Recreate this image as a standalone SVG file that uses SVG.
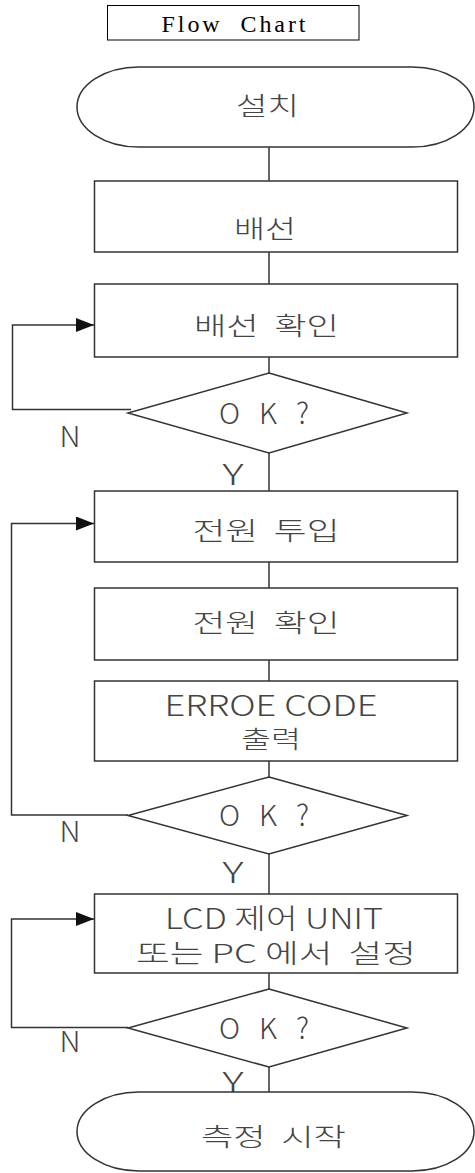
<svg xmlns="http://www.w3.org/2000/svg" width="475" height="1173" viewBox="0 0 475 1173">
<style>
text{white-space:pre}
.shape{fill:#fff;stroke:#333;stroke-width:1.5}
.conn{fill:none;stroke:#333;stroke-width:1.5}
.ko{font-family:"Noto Sans CJK KR",sans-serif;font-size:25px;font-weight:300;fill:#444;text-anchor:middle;dominant-baseline:central}
.la{font-family:"Noto Sans CJK KR","Liberation Sans",sans-serif;font-size:29px;font-weight:300;fill:#444;text-anchor:middle;dominant-baseline:central}
.title{font-family:"Liberation Serif",serif;font-size:24px;fill:#000;text-anchor:middle}
</style>
<defs>
<marker id="arr" markerUnits="userSpaceOnUse" markerWidth="18" markerHeight="14" refX="18" refY="7" orient="auto">
<path d="M0,0 L18,7 L0,14 Z" fill="#111"/>
</marker>
</defs>
<g id="title">
<rect x="107.5" y="5.5" width="251.5" height="34.5" fill="#fff" stroke="#000" stroke-width="1"/>
<text class="title" x="233.5" y="32" textLength="144" lengthAdjust="spacing">Flow  Chart</text>
</g>
<g id="connectors">
<path class="conn" d="M269,147 V181 M269,252 V284 M269,357 V373 M269,453 V491 M269,562 V588 M269,660 V681 M269,761 V777 M269,854 V894 M269,973 V989 M269,1067 V1092"/>
<path class="conn" d="M131,409.5 H12.5 V325 H94" marker-end="url(#arr)"/>
<path class="conn" d="M128,815 H11.5 V523.5 H94" marker-end="url(#arr)"/>
<path class="conn" d="M128,1027.5 H11.5 V919 H94" marker-end="url(#arr)"/>
<text class="la" x="70" y="433.5" textLength="21" lengthAdjust="spacingAndGlyphs">N</text>
<text class="la" x="233" y="472" textLength="21" lengthAdjust="spacingAndGlyphs">Y</text>
<text class="la" x="70" y="829" textLength="21" lengthAdjust="spacingAndGlyphs">N</text>
<text class="la" x="233" y="869.5" textLength="21" lengthAdjust="spacingAndGlyphs">Y</text>
<text class="la" x="70" y="1039" textLength="21" lengthAdjust="spacingAndGlyphs">N</text>
<text class="la" x="233" y="1079.5" textLength="21" lengthAdjust="spacingAndGlyphs">Y</text>
</g>
<g id="start">
<rect class="shape" x="77" y="67" width="397" height="80" rx="62" ry="40"/>
<text class="ko" x="267.5" y="104" textLength="63" lengthAdjust="spacingAndGlyphs">설치</text>
</g>
<g id="wiring">
<rect class="shape" x="94.5" y="181" width="363" height="71"/>
<text class="ko" x="265" y="226.5" textLength="62" lengthAdjust="spacingAndGlyphs">배선</text>
</g>
<g id="wiring-check">
<rect class="shape" x="94.5" y="284" width="363" height="73"/>
<text class="ko" x="266.5" y="323.5" textLength="145" lengthAdjust="spacingAndGlyphs">배선  확인</text>
</g>
<g id="ok1">
<polygon class="shape" points="269,373 407,413 269,453 128,413"/>
<text class="la" x="264" y="411" font-size="27" textLength="90" lengthAdjust="spacing">O K ?</text>
</g>
<g id="power-on">
<rect class="shape" x="94.5" y="491" width="363" height="71"/>
<text class="ko" x="266" y="529" textLength="147" lengthAdjust="spacingAndGlyphs">전원  투입</text>
</g>
<g id="power-check">
<rect class="shape" x="94.5" y="588" width="363" height="72"/>
<text class="ko" x="266" y="620.5" textLength="147" lengthAdjust="spacingAndGlyphs">전원  확인</text>
</g>
<g id="error-code">
<rect class="shape" x="94.5" y="681" width="363" height="80"/>
<text class="la"><tspan x="271" y="703" font-size="29" textLength="213" lengthAdjust="spacingAndGlyphs">ERROE CODE</tspan><tspan x="271" y="736.5" font-size="24" textLength="60" lengthAdjust="spacingAndGlyphs">출력</tspan></text>
</g>
<g id="ok2">
<polygon class="shape" points="269,777 407,815.5 269,854 128,815.5"/>
<text class="la" x="264" y="813" font-size="27" textLength="90" lengthAdjust="spacing">O K ?</text>
</g>
<g id="setup">
<rect class="shape" x="94.5" y="894" width="363" height="79"/>
<text class="la"><tspan x="274" y="916.5" font-size="28" textLength="218" lengthAdjust="spacingAndGlyphs">LCD 제어 UNIT</tspan><tspan x="276" y="951" font-size="26" textLength="280" lengthAdjust="spacingAndGlyphs">또는 PC 에서  설정</tspan></text>
</g>
<g id="ok3">
<polygon class="shape" points="269,989 407,1028 269,1067 128,1028"/>
<text class="la" x="264" y="1026" font-size="27" textLength="90" lengthAdjust="spacing">O K ?</text>
</g>
<g id="end">
<rect class="shape" x="77" y="1092" width="397" height="79" rx="62" ry="39.5"/>
<text class="ko" x="273.5" y="1135" textLength="145" lengthAdjust="spacingAndGlyphs">측정  시작</text>
</g>
</svg>
